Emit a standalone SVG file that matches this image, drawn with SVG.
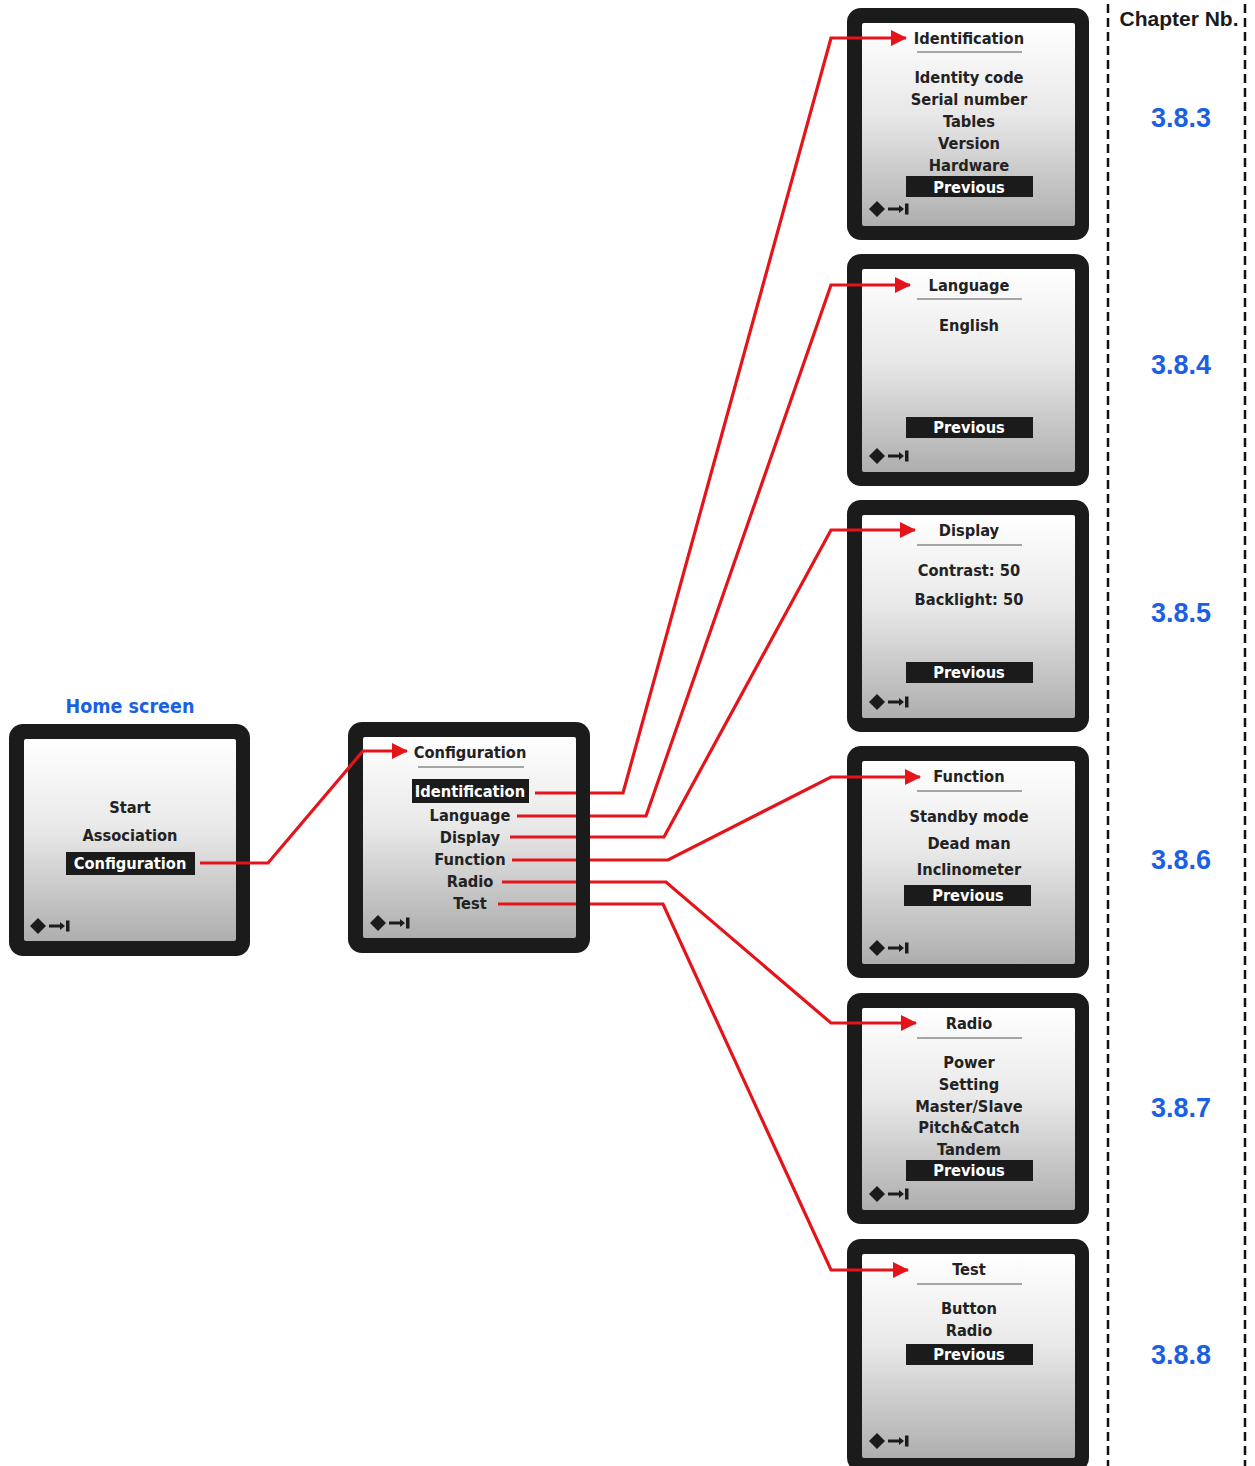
<svg xmlns="http://www.w3.org/2000/svg" xmlns:xlink="http://www.w3.org/1999/xlink" width="1255" height="1466" viewBox="0 0 1255 1466">
<style>
.frame{fill:#1b1b1c}
.screen{fill:url(#lcd)}
.t{font-family:'DejaVu Sans Condensed','DejaVu Sans',sans-serif;font-stretch:condensed;font-weight:bold;font-size:16.3px;fill:#222;text-anchor:middle}
.w{fill:#fff}
.hl{fill:#1b1b1c}
.ul{stroke:#555;stroke-width:1.2}
.conn{fill:none;stroke:#e5141b;stroke-width:3.2;stroke-linejoin:miter}
.chap{font-family:'Liberation Sans',Arial,sans-serif;font-weight:bold;font-size:27px;fill:#1b5fe4;text-anchor:middle}
.dash{stroke:#111;stroke-width:2.5;stroke-dasharray:9 5}
</style>
<defs>
<linearGradient id="lcd" x1="0" y1="0" x2="0" y2="1">
<stop offset="0" stop-color="#ffffff"/>
<stop offset="0.45" stop-color="#e8e8e8"/>
<stop offset="1" stop-color="#aeaeae"/>
</linearGradient>
<marker id="arr" viewBox="0 0 16 16" refX="15" refY="8" markerWidth="16" markerHeight="16" markerUnits="userSpaceOnUse" orient="auto">
<path d="M0,0 L16,8 L0,16 z" fill="#e5141b"/>
</marker>
<g id="nav">
<path d="M-8,0 L0,-8 L8,0 L0,8 z" fill="#1b1b1c"/>
<path d="M11,0 H25" stroke="#1b1b1c" stroke-width="3"/>
<path d="M22,-4 L27,0 L22,4 z" fill="#1b1b1c"/>
<rect x="28" y="-5.5" width="3.5" height="11" fill="#1b1b1c"/>
</g>
</defs>

<g id="home">
<text x="130" y="713" font-family="'DejaVu Sans Condensed','DejaVu Sans',sans-serif" font-stretch="condensed" font-weight="bold" font-size="19.5" fill="#1b5fe4" text-anchor="middle">Home screen</text>
<rect class="frame" x="9" y="724" width="241" height="232" rx="14"/>
<rect class="screen" x="24" y="739" width="212" height="202" rx="2"/>
<text class="t" x="130" y="813">Start</text>
<text class="t" x="130" y="841">Association</text>
<rect class="hl" x="66" y="852" width="129" height="23"/>
<text class="t w" x="130" y="869">Configuration</text>
<use href="#nav" x="38" y="926"/>
</g>

<g id="config">
<rect class="frame" x="348" y="722" width="242" height="231" rx="14"/>
<rect class="screen" x="363" y="737" width="213" height="201" rx="2"/>
<text class="t" x="470" y="758">Configuration</text>
<line class="ul" x1="418" y1="767" x2="524" y2="767"/>
<rect class="hl" x="412" y="779" width="117" height="24"/>
<text class="t w" x="470" y="797">Identification</text>
<text class="t" x="470" y="821">Language</text>
<text class="t" x="470" y="843">Display</text>
<text class="t" x="470" y="865">Function</text>
<text class="t" x="470" y="887">Radio</text>
<text class="t" x="470" y="909">Test</text>
<use href="#nav" x="378" y="923"/>
</g>

<g id="identification">
<rect class="frame" x="847" y="8" width="242" height="232" rx="14"/>
<rect class="screen" x="862" y="23" width="213" height="203" rx="2"/>
<text class="t" x="969" y="44">Identification</text>
<line class="ul" x1="917" y1="52" x2="1022" y2="52"/>
<text class="t" x="969" y="83">Identity code</text>
<text class="t" x="969" y="105">Serial number</text>
<text class="t" x="969" y="127">Tables</text>
<text class="t" x="969" y="149">Version</text>
<text class="t" x="969" y="171">Hardware</text>
<rect class="hl" x="906" y="176" width="127" height="21"/>
<text class="t w" x="969" y="193">Previous</text>
<use href="#nav" x="877" y="209"/>
</g>

<g id="language">
<rect class="frame" x="847" y="254" width="242" height="232" rx="14"/>
<rect class="screen" x="862" y="269" width="213" height="203" rx="2"/>
<text class="t" x="969" y="291">Language</text>
<line class="ul" x1="917" y1="299" x2="1022" y2="299"/>
<text class="t" x="969" y="331">English</text>
<rect class="hl" x="906" y="417" width="127" height="21"/>
<text class="t w" x="969" y="433">Previous</text>
<use href="#nav" x="877" y="456"/>
</g>

<g id="display">
<rect class="frame" x="847" y="500" width="242" height="232" rx="14"/>
<rect class="screen" x="862" y="515" width="213" height="203" rx="2"/>
<text class="t" x="969" y="536">Display</text>
<line class="ul" x1="917" y1="545" x2="1022" y2="545"/>
<text class="t" x="969" y="576">Contrast: 50</text>
<text class="t" x="969" y="605">Backlight: 50</text>
<rect class="hl" x="906" y="662" width="127" height="21"/>
<text class="t w" x="969" y="678">Previous</text>
<use href="#nav" x="877" y="702"/>
</g>

<g id="function">
<rect class="frame" x="847" y="746" width="242" height="232" rx="14"/>
<rect class="screen" x="862" y="761" width="213" height="203" rx="2"/>
<text class="t" x="969" y="782">Function</text>
<line class="ul" x1="917" y1="791" x2="1022" y2="791"/>
<text class="t" x="969" y="822">Standby mode</text>
<text class="t" x="969" y="849">Dead man</text>
<text class="t" x="969" y="875">Inclinometer</text>
<rect class="hl" x="904" y="885" width="127" height="21"/>
<text class="t w" x="968" y="901">Previous</text>
<use href="#nav" x="877" y="948"/>
</g>

<g id="radio">
<rect class="frame" x="847" y="993" width="242" height="231" rx="14"/>
<rect class="screen" x="862" y="1008" width="213" height="202" rx="2"/>
<text class="t" x="969" y="1029">Radio</text>
<line class="ul" x1="917" y1="1038" x2="1022" y2="1038"/>
<text class="t" x="969" y="1068">Power</text>
<text class="t" x="969" y="1090">Setting</text>
<text class="t" x="969" y="1112">Master/Slave</text>
<text class="t" x="969" y="1133">Pitch&amp;Catch</text>
<text class="t" x="969" y="1155">Tandem</text>
<rect class="hl" x="906" y="1160" width="127" height="21"/>
<text class="t w" x="969" y="1176">Previous</text>
<use href="#nav" x="877" y="1194"/>
</g>

<g id="test">
<rect class="frame" x="847" y="1239" width="242" height="233" rx="14"/>
<rect class="screen" x="862" y="1254" width="213" height="204" rx="2"/>
<text class="t" x="969" y="1275">Test</text>
<line class="ul" x1="917" y1="1284" x2="1022" y2="1284"/>
<text class="t" x="969" y="1314">Button</text>
<text class="t" x="969" y="1336">Radio</text>
<rect class="hl" x="906" y="1344" width="127" height="21"/>
<text class="t w" x="969" y="1360">Previous</text>
<use href="#nav" x="877" y="1441"/>
</g>

<g id="connectors">
<path class="conn" d="M200,863 H268 L363,751 H407" marker-end="url(#arr)"/>
<path class="conn" d="M535,793 H576 M590,793 H623 L831,38 H906" marker-end="url(#arr)"/>
<path class="conn" d="M517,816 H576 M590,816 H646 L831,285 H910" marker-end="url(#arr)"/>
<path class="conn" d="M510,837 H576 M590,837 H664 L831,530 H915" marker-end="url(#arr)"/>
<path class="conn" d="M512,860 H576 M590,860 H668 L831,777 H920" marker-end="url(#arr)"/>
<path class="conn" d="M502,882 H576 M590,882 H666 L831,1023 H916" marker-end="url(#arr)"/>
<path class="conn" d="M498,904 H576 M590,904 H663 L831,1270 H908" marker-end="url(#arr)"/>
</g>

<g id="chapters">
<line class="dash" x1="1108" y1="4" x2="1108" y2="1466"/>
<line class="dash" x1="1245" y1="4" x2="1245" y2="1466"/>
<text x="1179" y="26" font-family="'Liberation Sans',Arial,sans-serif" font-weight="bold" font-size="21" fill="#1a1a1a" text-anchor="middle">Chapter Nb.</text>
<text class="chap" x="1181" y="127">3.8.3</text>
<text class="chap" x="1181" y="374">3.8.4</text>
<text class="chap" x="1181" y="622">3.8.5</text>
<text class="chap" x="1181" y="869">3.8.6</text>
<text class="chap" x="1181" y="1117">3.8.7</text>
<text class="chap" x="1181" y="1364">3.8.8</text>
</g>
</svg>
